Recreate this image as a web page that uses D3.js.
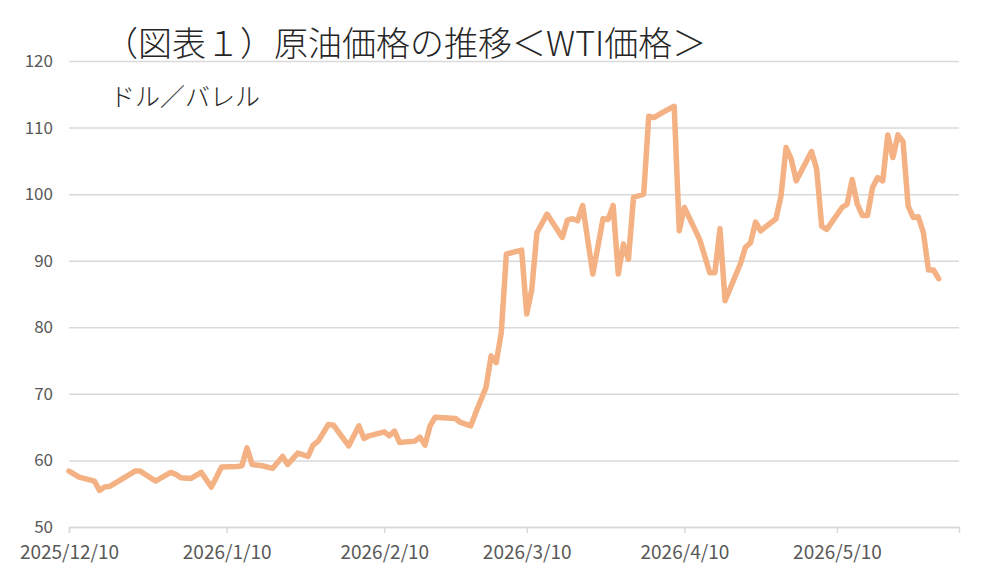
<!DOCTYPE html>
<html>
<head>
<meta charset="utf-8">
<script src="https://cdn.jsdelivr.net/npm/d3@7"></script>
<style>
  body { margin: 0; background: #fff; }
  svg text { font-family: "Noto Sans CJK JP", "Noto Sans", sans-serif; }
</style>
</head>
<body>
<div id="chart"></div>
<script>
// WTI daily price, USD per barrel
const dates = [
  "2025-12-10","2025-12-12","2025-12-15","2025-12-16","2025-12-17","2025-12-18","2025-12-23","2025-12-24",
  "2025-12-27","2025-12-30","2025-12-31","2026-01-01","2026-01-03","2026-01-05","2026-01-07","2026-01-09",
  "2026-01-12","2026-01-13","2026-01-14","2026-01-15","2026-01-17","2026-01-19","2026-01-21","2026-01-22",
  "2026-01-24","2026-01-26","2026-01-27","2026-01-28","2026-01-30","2026-01-31","2026-02-03","2026-02-05",
  "2026-02-06","2026-02-07","2026-02-10","2026-02-11","2026-02-12","2026-02-13","2026-02-16","2026-02-17",
  "2026-02-18","2026-02-19","2026-02-20","2026-02-24","2026-02-25","2026-02-27","2026-02-28","2026-03-02",
  "2026-03-03","2026-03-04","2026-03-05","2026-03-06","2026-03-09","2026-03-10","2026-03-11","2026-03-12",
  "2026-03-14","2026-03-17","2026-03-18","2026-03-19","2026-03-20","2026-03-21","2026-03-23","2026-03-25",
  "2026-03-26","2026-03-27","2026-03-28","2026-03-29","2026-03-30","2026-03-31","2026-04-02","2026-04-03",
  "2026-04-04","2026-04-06","2026-04-08","2026-04-09","2026-04-10","2026-04-13","2026-04-15","2026-04-16",
  "2026-04-17","2026-04-18","2026-04-21","2026-04-22","2026-04-23","2026-04-24","2026-04-25","2026-04-28",
  "2026-04-29","2026-04-30","2026-05-01","2026-05-02","2026-05-05","2026-05-06","2026-05-07","2026-05-08",
  "2026-05-11","2026-05-12","2026-05-13","2026-05-14","2026-05-15","2026-05-16","2026-05-17","2026-05-18",
  "2026-05-19","2026-05-20","2026-05-21","2026-05-22","2026-05-23","2026-05-24","2026-05-25","2026-05-26",
  "2026-05-27","2026-05-28","2026-05-29","2026-05-30"
];
const prices = [
  58.4,57.5,56.9,55.5,56.0,56.1,58.4,58.4,
  56.9,58.2,57.9,57.4,57.3,58.2,56.0,59.0,
  59.1,59.2,61.9,59.4,59.2,58.8,60.6,59.4,
  61.1,60.6,62.3,62.9,65.4,65.3,62.2,65.2,
  63.3,63.7,64.3,63.7,64.4,62.7,62.9,63.5,
  62.3,65.2,66.5,66.3,65.7,65.2,67.2,71.0,
  75.7,74.7,79.2,91.0,91.6,82.0,85.7,94.2,
  97.0,93.5,96.1,96.3,96.0,98.3,88.0,96.3,
  96.2,98.3,88.0,92.5,90.2,99.5,100.0,111.7,
  111.5,112.4,113.2,94.5,98.0,93.2,88.2,88.2,
  94.8,84.0,89.5,92.0,92.7,95.8,94.5,96.3,
  99.7,107.0,105.3,102.0,106.4,103.8,95.2,94.7,
  98.0,98.5,102.2,98.5,96.8,96.8,101.0,102.5,
  102.0,108.9,105.5,108.9,107.9,98.2,96.5,96.6,
  94.2,88.6,88.6,87.3
];
const yTicks = [50, 60, 70, 80, 90, 100, 110, 120];
const xTicks = ["2025-12-10","2026-01-10","2026-02-10","2026-03-10","2026-04-10","2026-05-10"];
const xEnd = "2026-06-03";
const title = "（図表１）原油価格の推移＜WTI価格＞";
const unitLabel = "ドル／バレル";

const W = 983, H = 586;
const parse = d3.timeParse("%Y-%m-%d");
const fmt = d3.timeFormat("%Y/%-m/%-d");
const data = dates.map((d, i) => ({ date: parse(d), value: prices[i] }));

const svg = d3.select("#chart").append("svg")
  .attr("width", W).attr("height", H);

const x = d3.scaleTime()
  .domain([parse(xTicks[0]), parse(xEnd)])
  .range([69, 959]);

const y = d3.scaleLinear()
  .domain([50, 120])
  .range([527, 61]);

// gridlines + y labels
const yAxis = svg.append("g")
  .attr("transform", "translate(69,0)")
  .call(d3.axisLeft(y).tickValues(yTicks).tickSize(-(959 - 69)).tickPadding(16));
yAxis.select(".domain").remove();
yAxis.selectAll("line").attr("stroke", "#d9d9d9").attr("stroke-width", 1.5);
yAxis.selectAll("text").attr("fill", "#595959").style("font-size", "17px");

// x axis
const xAxis = svg.append("g")
  .attr("transform", "translate(0,527)")
  .call(d3.axisBottom(x).tickValues(xTicks.map(parse)).tickFormat(fmt).tickSize(6).tickPadding(13));
xAxis.select(".domain").attr("stroke", "#d9d9d9").attr("stroke-width", 1.5);
xAxis.selectAll("line").attr("stroke", "#d9d9d9").attr("stroke-width", 1.5);
xAxis.selectAll("text").attr("fill", "#595959").style("font-size", "19px");

// price line
const line = d3.line()
  .x(d => x(d.date))
  .y(d => y(d.value));

svg.append("path")
  .datum(data)
  .attr("fill", "none")
  .attr("stroke", "#f4b183")
  .attr("stroke-width", 5.5)
  .attr("stroke-linejoin", "round")
  .attr("stroke-linecap", "round")
  .attr("d", line);

svg.append("text")
  .attr("x", 104).attr("y", 56)
  .attr("fill", "#262626")
  .style("font-size", "34px")
  .style("font-weight", 300)
  .text(title);

svg.append("text")
  .attr("x", 110).attr("y", 106)
  .attr("fill", "#262626")
  .style("font-size", "25px")
  .style("font-weight", 300)
  .text(unitLabel);
</script>
</body>
</html>
